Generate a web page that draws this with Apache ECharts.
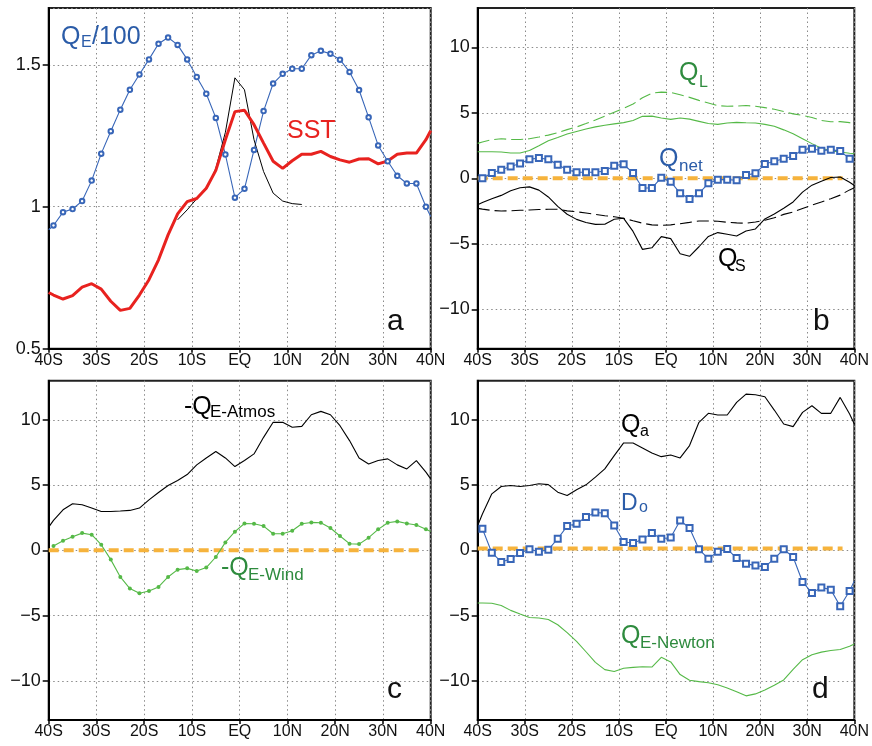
<!DOCTYPE html>
<html><head><meta charset="utf-8">
<script src="https://cdn.jsdelivr.net/npm/echarts@6/dist/echarts.min.js"></script>
<style>html,body{margin:0;padding:0;background:#fff}#c{width:872px;height:746px}</style>
</head><body><div id="c"></div><script>
// latitude grid (negative = south)
const LAT = [-40,-39,-37,-35,-33,-31,-29,-27,-25,-23,-21,-19,-17,-15,-13,-11,-9,-7,-5,-3,-1,1,3,5,7,9,11,13,15,17,19,21,23,25,27,29,31,33,35,37,39,40];
const XLABELS = ['40S','30S','20S','10S','EQ','10N','20N','30N','40N'];
const YTICKS_A = [0.5, 1, 1.5];
const YTICKS = [-10, -5, 0, 5, 10];

// panel a
const QE100 = [0.919,0.934,0.981,0.992,1.020,1.092,1.187,1.266,1.342,1.412,1.466,1.519,1.574,1.596,1.570,1.519,1.457,1.398,1.313,1.184,1.032,1.063,1.20,1.337,1.434,1.468,1.486,1.486,1.534,1.549,1.539,1.518,1.475,1.411,1.315,1.216,1.16,1.109,1.082,1.082,1.0,0.966];
const SST = [0.698,0.689,0.675,0.687,0.717,0.729,0.710,0.667,0.635,0.642,0.689,0.743,0.813,0.901,0.975,1.018,1.029,1.065,1.128,1.236,1.335,1.340,1.289,1.224,1.160,1.135,1.162,1.185,1.185,1.195,1.177,1.165,1.157,1.168,1.169,1.151,1.161,1.185,1.189,1.189,1.236,1.268];
const BLACK_A = [null,null,null,null,null,null,null,null,null,null,null,null,null,null,0.954,0.989,1.028,1.062,1.135,1.262,1.454,1.412,1.236,1.124,1.048,1.020,1.011,1.008,null,null,null,null,null,null,null,null,null,null,null,null,null,null];
// panel b
const QL_SOLID = [2.03,2.03,2.03,2.01,1.93,1.94,2.12,2.48,2.87,3.12,3.38,3.58,3.77,3.93,4.05,4.16,4.25,4.42,4.73,4.75,4.60,4.50,4.60,4.52,4.35,4.18,4.12,4.22,4.27,4.24,4.22,4.12,3.98,3.70,3.40,3.03,2.65,2.30,2.10,2.01,1.92,1.88];
const QL_DASH = [2.67,2.78,2.95,3.02,2.97,2.97,3.02,3.15,3.30,3.48,3.72,3.92,4.18,4.45,4.75,5.05,5.35,5.67,6.15,6.50,6.58,6.55,6.38,6.18,5.95,5.75,5.55,5.50,5.52,5.56,5.50,5.40,5.27,5.10,4.92,4.80,4.65,4.42,4.32,4.33,4.25,4.05];
const QNET = [null,0.0,0.41,0.66,0.91,1.14,1.45,1.55,1.45,1.04,0.66,0.46,0.46,0.46,0.56,0.97,1.07,0.41,-0.74,-0.74,0.05,-0.25,-1.14,-1.58,-1.14,-0.38,-0.10,-0.10,-0.15,0.25,0.38,1.09,1.30,1.50,1.70,2.19,2.26,2.11,2.19,2.08,1.50,null];
const QS_SOLID = [-2.01,-1.85,-1.55,-1.30,-0.95,-0.72,-0.65,-0.90,-1.42,-2.14,-2.74,-3.13,-3.37,-3.51,-3.50,-3.12,-3.05,-4.05,-5.42,-5.30,-4.45,-4.60,-5.75,-5.95,-5.22,-4.43,-4.14,-4.27,-4.40,-4.02,-3.86,-3.10,-2.72,-2.28,-1.80,-1.05,-0.52,-0.22,0.06,0.10,-0.30,-0.55];
const QS_DASH = [-2.29,-2.35,-2.45,-2.49,-2.47,-2.44,-2.41,-2.38,-2.36,-2.36,-2.48,-2.55,-2.64,-2.75,-2.85,-2.93,-3.05,-3.24,-3.42,-3.55,-3.58,-3.55,-3.46,-3.36,-3.25,-3.25,-3.27,-3.35,-3.40,-3.43,-3.33,-3.20,-3.01,-2.75,-2.57,-2.30,-2.04,-1.80,-1.55,-1.28,-0.88,-0.71];
// panel c
const ATMOS = [1.78,2.30,3.11,3.57,3.49,3.24,2.98,2.98,3.01,3.06,3.24,3.87,4.43,4.97,5.35,5.81,6.55,7.08,7.57,7.08,6.42,6.88,7.39,8.66,9.81,9.81,9.43,9.50,10.39,10.65,10.39,9.55,8.41,7.08,6.62,6.88,7.01,6.55,6.24,6.88,5.99,5.48];
const WIND = [null,0.33,0.74,1.04,1.32,1.20,0.43,-0.71,-2.04,-2.93,-3.29,-3.11,-2.80,-2.04,-1.48,-1.38,-1.58,-1.32,-0.51,0.61,1.43,2.06,2.04,1.86,1.27,1.27,1.50,2.04,2.14,2.11,1.71,1.10,0.51,0.48,0.97,1.61,2.11,2.22,2.06,1.94,1.61,1.45];
// panel d
const QA = [1.91,2.78,4.33,4.89,4.97,4.89,4.97,5.10,5.04,4.46,4.20,4.64,5.02,5.61,6.24,7.26,8.23,8.23,7.85,7.46,7.18,7.31,7.08,8.03,9.81,10.50,10.37,10.37,11.34,11.97,11.92,11.77,10.75,9.68,9.48,10.57,11.08,10.50,10.50,11.72,10.45,9.68];
const DO = [null,1.66,-0.18,-0.89,-0.66,-0.20,0.08,-0.10,0.05,0.89,1.86,2.04,2.55,2.90,2.85,1.91,0.64,0.56,0.84,1.32,0.89,0.99,2.29,1.71,0.08,-0.64,-0.10,0.10,-0.59,-1.02,-1.17,-1.27,-0.64,0.08,-0.51,-2.42,-3.26,-2.85,-3.01,-4.28,-3.11,-2.34];
const NEWTON = [-4.03,-4.03,-4.05,-4.22,-4.60,-4.88,-5.15,-5.18,-5.30,-5.70,-6.30,-6.97,-7.77,-8.58,-9.14,-9.29,-9.04,-8.97,-8.92,-8.94,-8.20,-8.55,-9.52,-9.95,-10.06,-10.14,-10.30,-10.54,-10.84,-11.15,-11.00,-10.70,-10.34,-9.93,-9.12,-8.38,-8.00,-7.80,-7.67,-7.60,-7.35,-7.18];
// orange reference lines
const REF_LAT = [-40, 37.5];
const REF_B = [0, 0];
const REF_C = [0, 0];
const REF_D = [0.15, 0.15];

const FONT = "'Liberation Sans', Arial, Helvetica, sans-serif";
const BLUE = '#3866b8', GREEN = '#55b947', ORANGE = '#f6b33c', RED = '#e8221f';
const LBLUE = '#2b5ca8', LGREEN = '#2e8b3e';

function pairs(vals, lats, noSym) {
  lats = lats || LAT;
  const out = [];
  vals.forEach((v, i) => {
    if (v === null) return;
    if (noSym && noSym.indexOf(lats[i]) >= 0) out.push({value: [lats[i], v], symbol: 'none'});
    else out.push([lats[i], v]);
  });
  return out;
}

const grids = [
  {left: 48.7, top: 8, width: 382, height: 340.7},
  {left: 477.7, top: 8, width: 381.6, height: 340.7},
  {left: 48.7, top: 380.7, width: 382, height: 339.3},
  {left: 477.7, top: 380.7, width: 381.6, height: 339.3}
].map(g => Object.assign(g, {show: true, borderColor: '#222', borderWidth: 2, containLabel: false}));

const split = {show: true, lineStyle: {color: '#8a8a8a', type: [1.5, 3], width: 1}};
const xAxes = [0,1,2,3].map(i => ({
  type: 'value', gridIndex: i, min: -40, max: 40, interval: 10,
  axisLine: {show: true, onZero: false, lineStyle: {color: '#000', width: 2}},
  axisTick: {show: true, length: 4, lineStyle: {color: '#000', width: 1.5}},
  axisLabel: {formatter: v => XLABELS[Math.round((v + 40) / 10)], fontSize: 16, color: '#111', margin: 4, fontFamily: FONT},
  splitLine: split
}));
const fmtY = v => v < 0 ? '\u2212' + (-v) : String(v);
const yAxes = [
  {type: 'value', gridIndex: 0, min: 0.5, max: 1.7, interval: 0.5,
   axisLine: {show: true, onZero: false, lineStyle: {color: '#000', width: 2}},
   axisTick: {show: true, length: 6, lineStyle: {color: '#000', width: 1.5}},
   axisLabel: {showMaxLabel: false, formatter: v => YTICKS_A.indexOf(v) >= 0 ? String(v) : '', fontSize: 18, color: '#111', margin: 8, fontFamily: FONT},
   splitLine: split}
].concat([1,2,3].map(i => ({
  type: 'value', gridIndex: i, min: -13, max: 13,
  axisLine: {show: true, onZero: false, lineStyle: {color: '#000', width: 2}},
  axisTick: {show: true, length: 6, customValues: YTICKS, lineStyle: {color: '#000', width: 1.5}},
  axisLabel: {customValues: YTICKS, formatter: fmtY, fontSize: 18, color: '#111', margin: 8, fontFamily: FONT},
  splitLine: split
})));

function line(idx, data, color, width, extra) {
  return Object.assign({type: 'line', xAxisIndex: idx, yAxisIndex: idx, data: data, showSymbol: false, symbol: 'none',
    lineStyle: {color: color, width: width}, itemStyle: {color: color}, animation: false, silent: true, clip: true}, extra || {});
}
function refLine(idx, vals) {
  return line(idx, pairs(vals, REF_LAT), ORANGE, 4, {lineStyle: {color: ORANGE, width: 4, type: [10, 5]}, z: 1});
}
const markerStyle = {color: BLUE, borderColor: BLUE, borderWidth: 0.9};

const series = [
  // a
  line(0, pairs(QE100, LAT, [-40, 40]), BLUE, 1.1, {symbol: 'emptyCircle', showSymbol: true, symbolSize: 4.5, itemStyle: markerStyle}),
  line(0, pairs(BLACK_A), '#000', 1),
  line(0, pairs(SST), RED, 3),
  // b
  refLine(1, REF_B),
  line(1, pairs(QL_SOLID), GREEN, 1.1),
  line(1, pairs(QL_DASH), GREEN, 1.1, {lineStyle: {color: GREEN, width: 1.1, type: [12, 5]}}),
  line(1, pairs(QS_SOLID), '#000', 1.1),
  line(1, pairs(QS_DASH), '#000', 1.1, {lineStyle: {color: '#000', width: 1.1, type: [12, 5]}}),
  line(1, pairs(QNET), BLUE, 1.1, {symbol: 'emptyRect', showSymbol: true, symbolSize: 6, itemStyle: markerStyle}),
  // c
  refLine(2, REF_C),
  line(2, pairs(ATMOS), '#000', 1.1),
  line(2, pairs(WIND, LAT, [40]), GREEN, 1.1, {symbol: 'circle', showSymbol: true, symbolSize: 4}),
  // d
  refLine(3, REF_D),
  line(3, pairs(QA), '#000', 1.1),
  line(3, pairs(NEWTON), GREEN, 1.1),
  line(3, pairs(DO, LAT, [40]), BLUE, 1.1, {symbol: 'emptyRect', showSymbol: true, symbolSize: 6, itemStyle: markerStyle})
];

const LABELS = [
  ['Q', 61, 37.3, 25, LBLUE], ['E', 81, 42.5, 16, LBLUE], ['/100', 92, 37.3, 25, LBLUE],
  ['SST', 287, 131.3, 25, RED],
  ['Q', 679, 73.3, 25, LGREEN], ['L', 699, 82.5, 16, LGREEN],
  ['Q', 659, 159.3, 25, LBLUE], ['net', 679, 166, 17, LBLUE],
  ['Q', 718, 259.3, 25, '#000'], ['S', 735, 266.5, 16, '#000'],
  ['-Q', 184, 407.3, 25, '#000'], ['E-Atmos', 210, 412, 17, '#000'],
  ['-Q', 221, 568.3, 25, LGREEN], ['E-Wind', 248, 575, 17, LGREEN],
  ['Q', 621, 425.3, 25, '#000'], ['a', 640, 431.5, 16, '#000'],
  ['D', 621, 503.3, 23, LBLUE], ['o', 639, 507.5, 16, LBLUE],
  ['Q', 621, 636.3, 25, LGREEN], ['E-Newton', 640, 643, 17, LGREEN],
  ['a', 387, 321.6, 30, '#111'], ['b', 813, 321.6, 30, '#111'],
  ['c', 387, 689.6, 30, '#111'], ['d', 812, 689.6, 30, '#111']
];
const graphic = LABELS.map(l => ({type: 'text', x: l[1], y: l[2], z: 100, silent: true,
  style: {text: l[0], fill: l[4], fontSize: l[3], fontFamily: FONT, align: 'left', verticalAlign: 'middle'}}));

const chart = echarts.init(document.getElementById('c'), null, {renderer: 'canvas'});
chart.setOption({animation: false, backgroundColor: '#fff', grid: grids, xAxis: xAxes, yAxis: yAxes, series: series, graphic: graphic});
</script></body></html>
